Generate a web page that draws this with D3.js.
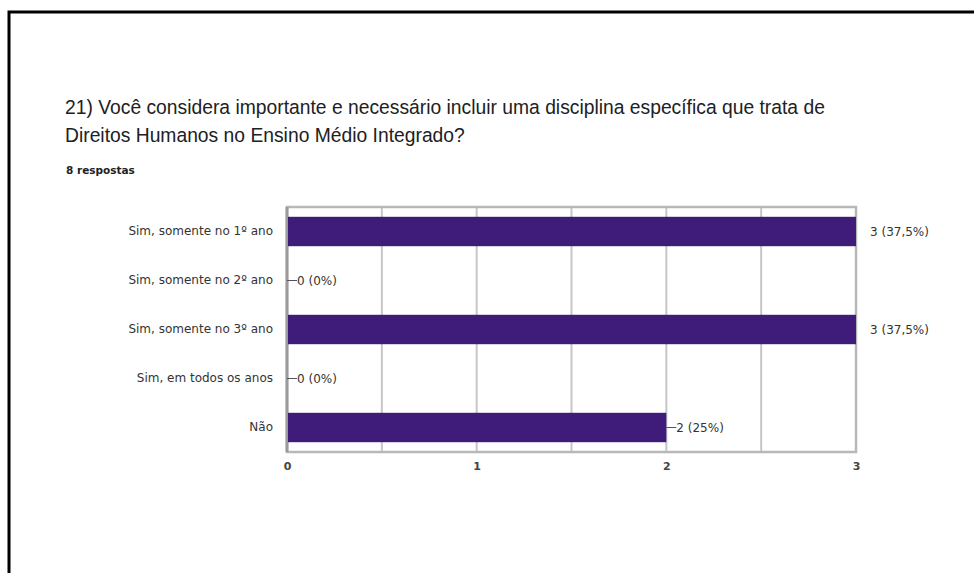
<!DOCTYPE html>
<html>
<head>
<meta charset="utf-8">
<script src="https://cdn.jsdelivr.net/npm/d3@7"></script>
<style>
  html, body { margin: 0; padding: 0; background: #fff; }
  svg { display: block; }
</style>
</head>
<body>
<div id="chart"></div>
<script>
// dados do grafico
var categorias = ["Sim, somente no 1º ano", "Sim, somente no 2º ano", "Sim, somente no 3º ano", "Sim, em todos os anos", "Não"];
var valores = [3, 0, 3, 0, 2];
var porcentagens = ["37,5%", "0%", "37,5%", "0%", "25%"];
var ticksX = [0, 1, 2, 3];
var grade = [0, 0.5, 1, 1.5, 2, 2.5, 3];
var titulo = ["21) Você considera importante e necessário incluir uma disciplina específica que trata de",
              "Direitos Humanos no Ensino Médio Integrado?"];
var respostas = "8 respostas";

var width = 974, height = 573;
var plot = {left: 287, right: 856, top: 207, bottom: 452};

document.addEventListener("DOMContentLoaded", function(){
    var svg = d3.select("#chart").append("svg")
        .attr("width", width)
        .attr("height", height);

    // moldura preta
    svg.append("path")
        .attr("d", "M9,573 L9,12 L974,12")
        .attr("fill", "none")
        .attr("stroke", "#000")
        .attr("stroke-width", 3);

    // titulo
    svg.selectAll(".titulo").data(titulo).enter().append("text")
        .attr("class", "titulo")
        .attr("x", 65)
        .attr("y", function(d, i){ return 114 + i * 28; })
        .text(function(d){ return d; })
        .style("font-family", "Liberation Sans, Arial, sans-serif")
        .style("font-size", "19.3px")
        .style("fill", "#202124");

    svg.append("text")
        .attr("x", 66)
        .attr("y", 174)
        .text(respostas)
        .style("font-family", "DejaVu Sans, sans-serif")
        .style("font-size", "10.5px")
        .style("font-weight", "bold")
        .style("fill", "#202124");

    var x = d3.scaleLinear().domain([0, 3]).range([plot.left, plot.right]);
    var y = d3.scaleBand().domain(categorias).range([plot.top, plot.bottom])
        .paddingInner(0.4).paddingOuter(0.2);

    // linhas de grade
    svg.selectAll(".grade").data(grade).enter().append("line")
        .attr("class", "grade")
        .attr("x1", function(d){ return x(d); })
        .attr("x2", function(d){ return x(d); })
        .attr("y1", plot.top)
        .attr("y2", plot.bottom)
        .attr("stroke", "#c6c6c6")
        .attr("stroke-width", 2);

    svg.append("rect")
        .attr("x", plot.left)
        .attr("y", plot.top)
        .attr("width", plot.right - plot.left)
        .attr("height", plot.bottom - plot.top)
        .attr("fill", "none")
        .attr("stroke", "#b8b8b8")
        .attr("stroke-width", 2.5);

    svg.append("line")
        .attr("x1", plot.left).attr("x2", plot.left)
        .attr("y1", plot.top).attr("y2", plot.bottom)
        .attr("stroke", "#9a9a9a")
        .attr("stroke-width", 3);

    // barras
    svg.selectAll(".barra").data(valores).enter().append("rect")
        .attr("class", "barra")
        .attr("x", x(0) + 1)
        .attr("y", function(d, i){ return y(categorias[i]); })
        .attr("width", function(d){ return Math.max(0, x(d) - x(0) - 1); })
        .attr("height", y.bandwidth())
        .attr("fill", "#3f1c7a");

    var maximo = d3.max(valores);

    // linhas guia e rotulos
    valores.forEach(function(v, i){
        var cy = y(categorias[i]) + y.bandwidth() / 2;
        if (v < maximo){
            svg.append("line")
                .attr("x1", x(v)).attr("x2", x(v) + 10)
                .attr("y1", cy).attr("y2", cy)
                .attr("stroke", "#555")
                .attr("stroke-width", 1);
        }
        svg.append("text")
            .attr("x", v < maximo ? x(v) + 10 : x(v) + 14)
            .attr("y", cy)
            .attr("dy", "0.35em")
            .text(v + " (" + porcentagens[i] + ")")
            .style("font-family", "DejaVu Sans, sans-serif")
            .style("font-size", "12px")
            .style("fill", "#333");
    });

    // eixo y (categorias)
    var eixoY = svg.append("g")
        .attr("transform", "translate(" + plot.left + ",0)")
        .call(d3.axisLeft(y).tickSize(0).tickPadding(14));
    eixoY.select(".domain").remove();
    eixoY.selectAll("text")
        .style("font-family", "DejaVu Sans, sans-serif")
        .style("font-size", "12px")
        .style("fill", "#333");

    // eixo x
    var eixoX = svg.append("g")
        .attr("transform", "translate(0," + plot.bottom + ")")
        .call(d3.axisBottom(x).tickValues(ticksX).tickFormat(d3.format("d")).tickSize(0).tickPadding(10));
    eixoX.select(".domain").remove();
    eixoX.selectAll("text")
        .style("font-family", "DejaVu Sans, sans-serif")
        .style("font-size", "11px")
        .style("font-weight", "bold")
        .style("fill", "#444");
});
</script>
</body>
</html>
